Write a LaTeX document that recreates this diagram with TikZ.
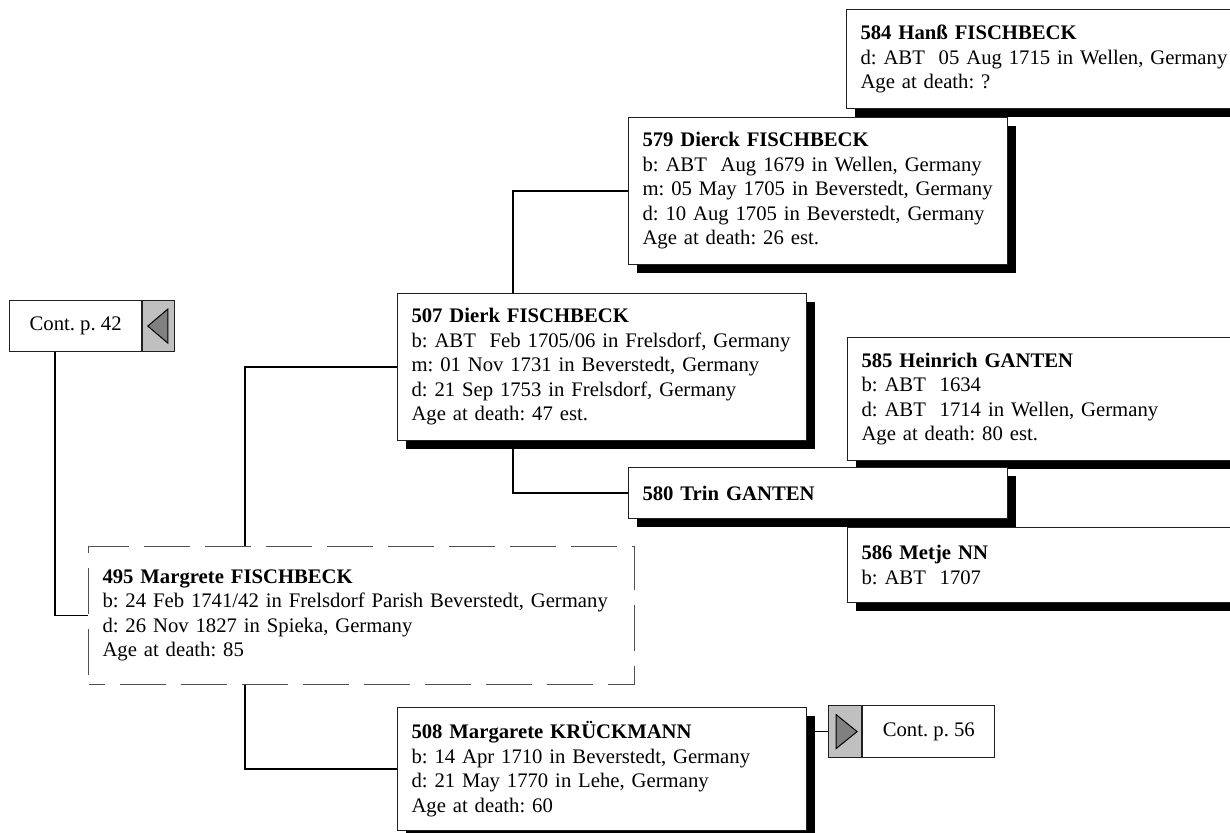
\documentclass[tikz,border=0pt]{standalone}
\usepackage{fontspec}
\setmainfont{Liberation Serif}
\usetikzlibrary{positioning,shadows,calc}
\definecolor{tabgray}{HTML}{C0C0C0}
\definecolor{trigray}{HTML}{808080}
\definecolor{edge}{HTML}{202020}
\definecolor{dashgray}{HTML}{505050}
\newcommand{\cardfont}{\fontsize{10.35}{12.25}\selectfont\frenchspacing\hyphenpenalty=10000}
\tikzset{
  person/.style={draw=edge,fill=white,line width=0.5pt,anchor=north west,
                 align=left,inner xsep=7pt,inner ysep=0pt,text width=#1,
                 font=\cardfont,
                 drop shadow={shadow xshift=4.2pt,shadow yshift=-4.2pt,
                              fill=black,opacity=1}},
  personroot/.style={draw=dashgray,fill=white,line width=0.5pt,
                     dash pattern=on 23pt off 7.5pt,dash phase=15pt,
                     anchor=north west,
                     align=left,inner xsep=7pt,inner ysep=0pt,text width=#1,
                     font=\cardfont},
  contbox/.style={draw=edge,fill=white,line width=0.6pt,inner sep=0pt,
                  minimum width=66pt,minimum height=25.5pt,font=\cardfont},
  conttab/.style={draw=edge,fill=tabgray,line width=0.6pt,inner sep=0pt,
                  minimum width=16pt,minimum height=25.5pt},
  tabarrow/.style={draw=black,fill=trigray,line width=0.5pt,line join=miter},
  link/.style={draw=black,line width=0.6pt},
}
\begin{document}
\begin{tikzpicture}[x=0.5pt,y=-0.5pt]
  \useasboundingbox (0,0) rectangle (1230,833);
  \fill[white] (0,0) rectangle (1230,833);
  \clip (0,0) rectangle (1230,833);

  % great-grandparents
  \node[person=193pt,minimum height=49.5pt] (f584) at (846,9)
    {\textbf{584 Hanß FISCHBECK}\\
     d: ABT\ \ 05 Aug 1715 in Wellen, Germany\\
     Age at death: ?};
  \node[person=175.5pt,minimum height=73.5pt] (f579) at (628,117)
    {\textbf{579 Dierck FISCHBECK}\\
     b: ABT\ \ Aug 1679 in Wellen, Germany\\
     m: 05 May 1705 in Beverstedt, Germany\\
     d: 10 Aug 1705 in Beverstedt, Germany\\
     Age at death: 26 est.};
  \node[person=193pt,minimum height=61.5pt] (f585) at (847,337)
    {\textbf{585 Heinrich GANTEN}\\
     b: ABT\ \ 1634\\
     d: ABT\ \ 1714 in Wellen, Germany\\
     Age at death: 80 est.};
  \node[person=175.5pt,minimum height=25.5pt] (m580) at (628,467)
    {\textbf{580 Trin GANTEN}};
  \node[person=193pt,minimum height=37.5pt] (m586) at (847,527)
    {\textbf{586 Metje NN}\\
     b: ABT\ \ 1707};

  % parents
  \node[person=190.5pt,minimum height=73.5pt] (f507) at (397,293)
    {\textbf{507 Dierk FISCHBECK}\\
     b: ABT\ \ Feb 1705/06 in Frelsdorf, Germany\\
     m: 01 Nov 1731 in Beverstedt, Germany\\
     d: 21 Sep 1753 in Frelsdorf, Germany\\
     Age at death: 47 est.};
  \node[person=190.5pt,minimum height=61.5pt] (m508) at (397,707)
    {\textbf{508 Margarete KRÜCKMANN}\\
     b: 14 Apr 1710 in Beverstedt, Germany\\
     d: 21 May 1770 in Lehe, Germany\\
     Age at death: 60};

  % root person
  \node[personroot=259pt,minimum height=69pt] (m495) at (88,546)
    {\textbf{495 Margrete FISCHBECK}\\
     b: 24 Feb 1741/42 in Frelsdorf Parish Beverstedt, Germany\\
     d: 26 Nov 1827 in Spieka, Germany\\
     Age at death: 85};

  % continuation markers
  \node[contbox,anchor=north west] (c42) at (9,300) {Cont. p. 42};
  \node[conttab,right=0pt of c42] (c42tab) {};
  \draw[tabarrow] ($(c42tab.center)+(-11,0)$) -- ($(c42tab.center)+(9,-17)$)
    -- ($(c42tab.center)+(9,17)$) -- cycle;
  \node[conttab,anchor=north west,minimum width=16.5pt,minimum height=26pt]
    (c56tab) at (828,705) {};
  \node[contbox,minimum height=26pt,right=0pt of c56tab] (c56) {Cont. p. 56};
  \draw[tabarrow] ($(c56tab.center)+(12,0)$) -- ($(c56tab.center)+(-9,-17)$)
    -- ($(c56tab.center)+(-9,17)$) -- cycle;

  % connectors
  \draw[link] ([xshift=23pt]c42.south west) |- (m495.west);
  \draw[link] ([xshift=78.5pt]m495.north west) |- (f507.west);
  \draw[link] ([xshift=78.5pt]m495.south west) |- (m508.west);
  \draw[link] ([xshift=58pt]f507.north west) |- (f579.west);
  \draw[link] ([xshift=58pt]f507.south west) |- (m580.west);
  \draw[link] (c56tab.west) -- (c56tab.west -| m508.east);
\end{tikzpicture}
\end{document}
